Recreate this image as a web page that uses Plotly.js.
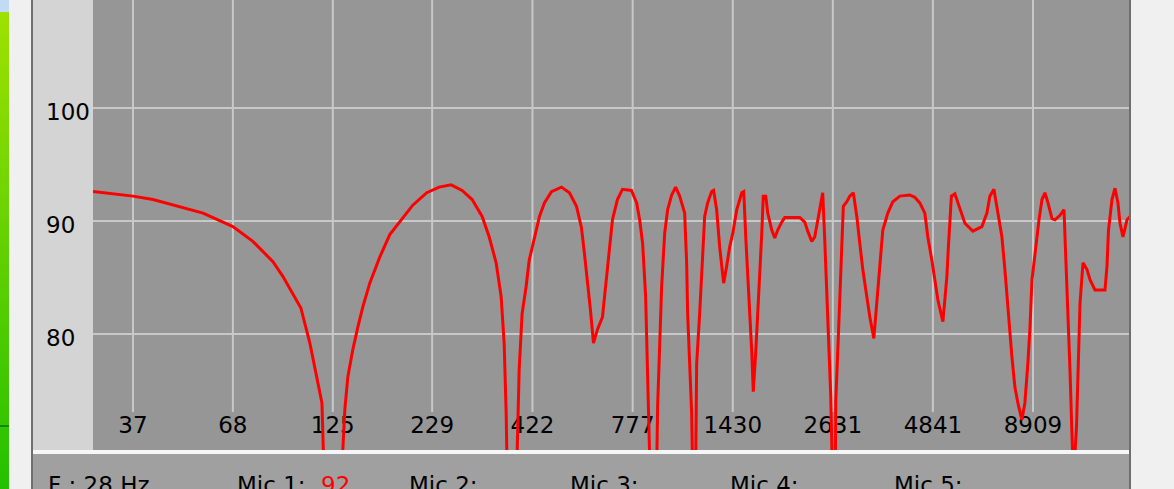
<!DOCTYPE html>
<html>
<head>
<meta charset="utf-8">
<script src="https://cdn.plot.ly/plotly-3.0.1.min.js"></script>
<style>
html,body{margin:0;padding:0;width:1174px;height:489px;overflow:hidden;background:#f0f0f0;}
#meter{position:absolute;left:0;top:0;width:9px;height:489px;background:linear-gradient(#a2e200,#24c000);}
#meterTop{position:absolute;left:0;top:0;width:9px;height:12px;background:#c2daf4;}
#meterMark{position:absolute;left:0;top:425px;width:9px;height:2px;background:#118a00;}
#frame{position:absolute;left:31px;top:0;width:1100px;height:489px;background:#6e6e6e;}
#panel{position:absolute;left:33px;top:0;width:1096px;height:450px;background:#d4d4d4;}
#sep{position:absolute;left:33px;top:450px;width:1096px;height:4px;background:#f6f6f6;}
#status{position:absolute;left:33px;top:454px;width:1096px;height:35px;background:#a0a0a0;}
#chart{position:absolute;left:0;top:0;width:1174px;height:489px;}
</style>
</head>
<body>
<div id="meter"></div><div id="meterTop"></div><div id="meterMark"></div>
<div id="frame"></div><div id="panel"></div><div id="sep"></div><div id="status"></div>
<div id="chart"></div>
<script>
// ---- data ----
const freqHz = [29.0,32.8,37,41.8,47.2,56.7,62.1,68,76.8,86.8,92.2,98.0,102.9,108.7,113.4,117.0,118.4,125,132.1,
134.5,137.0,141.2,145.6,150.1,156.6,166.4,176.9,188.0,203.5,221.6,239.0,257.1,274.9,292.2,310.5,324.1,338.2,348.7,355.1,359.5,
361.6,375.1,384.3,389.1,396.2,406.0,413.5,427.2,440.4,453.9,473.8,503.6,528.7,551.8,568.8,579.3,589.9,600.9,612.0,627.0,646.4,
662.4,674.7,687.0,708.2,730.1,771.4,796.2,810.9,825.8,841.0,851.3,861.8,867.0,883.1,899.4,904.7,915.9,927.2,944.3,961.5,985.4,
1009.7,1034.7,1066.7,1079.7,1086.2,1099.7,1113.1,1119.8,1133.6,1140.6,1147.6,1168.8,1190.1,1204.9,1226.9,1257.3,1272.8,1296.3,
1320.2,1352.8,1377.7,1403.1,1430,1465.3,1510.7,1529.1,1547.8,1566.7,1586.0,1605.5,1620.2,1645.1,1665.1,1690.8,1706.4,1722.0,
1748.6,1769.6,1813.5,1847.0,1880.9,1927.5,1963.1,2151.0,2217.5,2258.0,2314.0,2356.6,2399.8,2444.6,2474.0,2504.8,2535.5,2558.9,
2598.2,2623,2647,2671,2679.5,2712.4,2745.7,2779.4,2804.9,2865.2,2918.0,2981.0,3045.4,3101.4,3158.5,3236.6,3296.4,3377.7,3440.0,
3503.4,3567.6,3677.9,3791.8,3957.5,4206.2,4335.9,4470.3,4608.5,4692.6,4811.6,4900.4,4990.8,5145.0,5271.8,5320.3,5418.6,5535.2,
5706.6,5883.3,6176.6,6525.2,6727.1,6851.5,7020.4,7192.3,7370.9,7506.9,7643.9,7833.7,7978.0,8124.2,8326.0,8479.5,8634.4,8741.9,
8854.9,9073.4,9240.4,9411.5,9583.4,9760.7,10002,10187,10502,10761,10894,11025,11162,11265,11402,11613,11755,11863,12081,12380,
12609,12998,13815,13984,14113,14417,14682,14951,15137,15413,15797,16088];
const levelDb = [92.6,92.4,92.2,91.9,91.4,90.7,90.1,89.5,88.2,86.4,85.1,83.6,82.3,79.2,76.2,73.9,68,55,68,
73.3,76.2,78.6,80.6,82.4,84.5,86.8,88.8,89.9,91.4,92.5,93.0,93.2,92.7,91.9,90.4,88.6,86.3,83.3,79.2,73.0,
68,55,68,76.8,81.8,84.2,86.5,88.6,90.4,91.6,92.6,93.0,92.5,91.3,89.4,87.1,84.8,82.1,79.2,80.4,81.5,
84.8,87.7,90.1,91.9,92.8,92.7,91.6,90.1,88.0,83.3,78.0,73.0,68,55,68,73.6,78.9,84.2,88.9,91.0,92.3,
93.0,92.2,90.7,86.3,81.8,77.4,73.0,68,55,68,77.4,81.8,86.3,90.4,91.6,92.6,92.7,91.0,
87.7,84.5,86.0,87.7,88.9,91.0,92.5,92.6,88.6,85.7,81.8,78.4,74.9,78.4,81.8,85.4,88.9,92.2,
92.2,90.7,89.2,88.5,89.2,89.9,90.3,90.3,89.9,89.1,88.2,88.6,90.1,91.6,92.5,88.3,83.6,79.2,
74.5,68,55,68,74.2,78.6,82.7,87.1,91.3,91.7,92.2,92.5,90.4,88.0,85.7,83.3,81.5,79.6,82.7,
86.3,89.2,90.7,91.7,92.2,92.3,92.1,91.6,90.7,88.6,86.5,84.8,83.0,81.1,85.1,87.7,92.2,92.4,
91.0,89.8,89.1,89.5,90.7,92.2,92.8,90.7,88.6,85.7,82.1,78.0,75.3,73.9,72.4,73.9,77.4,80.4,
84.8,88.0,90.1,91.9,92.5,91.6,90.2,90.1,90.5,91.0,86.5,81.8,76.8,72.4,67,71.8,78.6,82.7,86.3,85.7,
84.8,83.9,83.9,86.0,89.2,91.9,92.9,91.6,89.8,88.6,90.1,90.4];
const xTickVals = [37,68,125,229,422,777,1430,2631,4841,8909];
const xTickLabels = ['37','68','125','229','422','777','1430','2631','4841','8909'];
const yTickVals = [80,90,100];
const yTickLabels = ['80','90','100'];
const statusLabels = ['F : 28 Hz','Mic 1:','92','Mic 2:','Mic 3:','Mic 4:','Mic 5:'];

// ---- layout constants ----
const FONT = 'DejaVu Sans, Verdana, sans-serif';
const PL = 93, PW = 1036, PH = 450;
const X_RANGE = [1.46235, 4.20387];
const Y_RANGE = [69.73, 109.56];
const GRID_BOTTOM = 73.1;
const LABEL_Y = 71.7;
const statusX = [46,235,319,407,568,728,892];
const statusColor = ['#000','#000','#ff0000','#000','#000','#000','#000'];

const gx = [], gy = [];
xTickVals.forEach(v => { gx.push(v, v, null); gy.push(GRID_BOTTOM, Y_RANGE[1], null); });

const traces = [
  {x: gx, y: gy, mode: 'lines', line: {color: '#c8c8c8', width: 2}, hoverinfo: 'skip', showlegend: false},
  {x: xTickVals, y: xTickVals.map(() => LABEL_Y), mode: 'text', text: xTickLabels,
   textposition: 'middle center', textfont: {family: FONT, size: 23, color: '#000'}, hoverinfo: 'skip', showlegend: false},
  {x: freqHz, y: levelDb, mode: 'lines', line: {color: '#ff0000', width: 3}, hoverinfo: 'skip', showlegend: false}
];

const annotations = [];
yTickVals.forEach((v, i) => annotations.push({
  xref: 'paper', yref: 'y', x: (44 - PL) / PW, y: v - 0.35, xanchor: 'left', yanchor: 'middle',
  text: yTickLabels[i], showarrow: false, font: {family: FONT, size: 23, color: '#000'}
}));
statusLabels.forEach((t, i) => annotations.push({
  xref: 'paper', yref: 'paper', x: (statusX[i] - PL) / PW, y: -(485.4 - PH) / PH, xanchor: 'left', yanchor: 'middle',
  text: t, showarrow: false, font: {family: FONT, size: 23, color: statusColor[i]}
}));

const layout = {
  width: 1174, height: 489,
  margin: {l: PL, r: 1174 - PL - PW, t: 0, b: 489 - PH, pad: 0},
  paper_bgcolor: 'rgba(0,0,0,0)', plot_bgcolor: '#969696',
  showlegend: false, hovermode: false,
  xaxis: {type: 'log', range: X_RANGE, showgrid: false, zeroline: false, showline: false,
          showticklabels: false, ticks: '', fixedrange: true},
  yaxis: {range: Y_RANGE, tickvals: yTickVals, showgrid: true, gridcolor: '#c8c8c8', gridwidth: 2,
          zeroline: false, showline: false, showticklabels: false, ticks: '', fixedrange: true},
  annotations: annotations
};

Plotly.newPlot('chart', traces, layout, {displayModeBar: false, staticPlot: true});
</script>
</body>
</html>
